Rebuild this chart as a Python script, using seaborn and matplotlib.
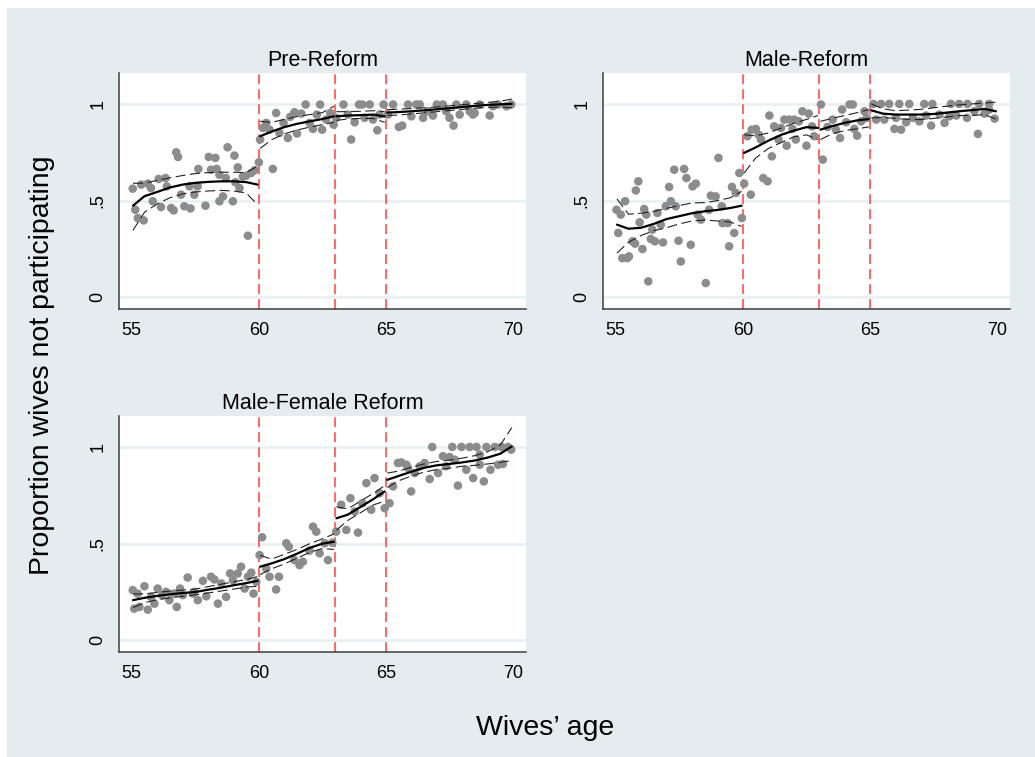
# wives_participation.py
import matplotlib
matplotlib.use("Agg")
import matplotlib.pyplot as plt
from matplotlib.patches import Rectangle
import seaborn as sns

# ====== DATA ======
panel_titles = ["Pre-Reform", "Male-Reform", "Male-Female Reform"]
reform_ages = [60, 63, 65]

# binned scatter points
pre_x = [55.04, 55.14, 55.24, 55.47, 55.37, 55.63, 55.76, 55.83, 56.06, 56.15, 56.33, 56.38,
         56.55, 56.65, 56.75, 56.82, 56.94, 57.07, 57.31, 57.27, 57.46, 57.59, 57.62, 57.9,
         58.03, 58.12, 58.29, 58.34, 58.45, 58.45, 58.59, 58.7, 58.77, 58.98, 59.04, 59.08,
         59.17, 59.24, 59.37, 59.5, 59.57, 59.7, 59.83, 60.0,
         60.05, 60.16, 60.29, 60.42, 60.55, 60.68, 60.81, 60.97, 61.14, 61.23, 61.4, 61.5,
         61.67, 61.84, 62.0, 62.13, 62.28, 62.41, 62.49, 62.65, 62.81, 62.94,
         63.04, 63.33, 63.5, 63.63, 63.77, 63.94, 64.07, 64.16, 64.36, 64.49, 64.66, 64.75, 64.91,
         65.08, 65.28, 65.51, 65.64, 65.87, 66.0, 66.19, 66.33, 66.46, 66.65, 66.85, 67.0,
         67.24, 67.37, 67.5, 67.66, 67.77, 67.9, 68.16, 68.29, 68.42, 68.49, 68.69, 69.08,
         69.21, 69.41, 69.74, 69.93]
pre_y = [0.562, 0.453, 0.41, 0.398, 0.583, 0.588, 0.565, 0.497, 0.612, 0.467, 0.617, 0.574,
         0.462, 0.45, 0.75, 0.726, 0.531, 0.471, 0.46, 0.574, 0.531, 0.574, 0.664, 0.474,
         0.726, 0.66, 0.721, 0.664, 0.634, 0.497, 0.522, 0.617, 0.776, 0.497, 0.733, 0.595,
         0.672, 0.565, 0.625, 0.629, 0.319, 0.643, 0.657, 0.698,
         0.816, 0.876, 0.902, 0.867, 0.664, 0.953, 0.85, 0.902, 0.824, 0.933, 0.957, 0.847,
         0.95, 0.997, 0.902, 0.871, 0.945, 0.997, 0.867, 0.919, 0.953, 0.893,
         0.928, 0.997, 0.945, 0.816, 0.905, 0.997, 0.997, 0.928, 0.997, 0.919, 0.864, 0.945, 0.997,
         0.945, 0.997, 0.881, 0.888, 0.997, 0.936, 0.997, 0.997, 0.928, 0.962, 0.94, 0.997,
         0.997, 0.962, 0.928, 0.888, 0.997, 0.945, 0.997, 0.962, 0.945, 0.953, 0.997, 0.94,
         0.988, 0.997, 0.988, 0.997]

male_x = [55.03, 55.1, 55.2, 55.26, 55.37, 55.46, 55.52, 55.66, 55.76, 55.79, 55.89, 55.94,
          56.05, 56.12, 56.2, 56.28, 56.38, 56.44, 56.54, 56.64, 56.77, 56.86, 56.97, 57.1,
          57.17, 57.3, 57.36, 57.47, 57.56, 57.69, 57.78, 57.95, 58.02, 58.15, 58.22, 58.35,
          58.54, 58.67, 58.74, 58.93, 59.04, 59.17, 59.2, 59.4, 59.46, 59.57, 59.66, 59.72,
          59.86, 59.96,
          60.05, 60.18, 60.31, 60.35, 60.51, 60.62, 60.71, 60.8, 60.97, 61.04, 61.14, 61.23,
          61.4, 61.5, 61.63, 61.72, 61.82, 61.95, 62.02, 62.08, 62.2, 62.34, 62.5, 62.59,
          62.72, 62.8,
          63.07, 63.14, 63.33, 63.53, 63.66, 63.82, 63.9, 64.06, 64.19, 64.32, 64.38, 64.49,
          64.65, 64.78, 64.87,
          65.13, 65.24, 65.43, 65.56, 65.75, 65.96, 66.02, 66.15, 66.22, 66.42, 66.54, 66.68,
          66.94, 67.13, 67.2, 67.4, 67.45, 67.73, 67.93, 68.12, 68.18, 68.39, 68.5, 68.81,
          68.83, 69.1, 69.24, 69.29, 69.5, 69.68, 69.68, 69.9]
male_y = [0.453, 0.333, 0.428, 0.203, 0.497, 0.203, 0.212, 0.29, 0.278, 0.553, 0.6, 0.388,
          0.25, 0.457, 0.428, 0.083, 0.302, 0.35, 0.29, 0.436, 0.376, 0.284, 0.471, 0.571,
          0.497, 0.66, 0.471, 0.293, 0.186, 0.664, 0.617, 0.272, 0.574, 0.588, 0.428, 0.402,
          0.074, 0.453, 0.526, 0.522, 0.721, 0.471, 0.384, 0.384, 0.264, 0.571, 0.333, 0.54,
          0.643, 0.41,
          0.588, 0.833, 0.531, 0.867, 0.871, 0.841, 0.816, 0.617, 0.6, 0.94, 0.729, 0.884,
          0.816, 0.876, 0.919, 0.784, 0.919, 0.871, 0.919, 0.816, 0.91, 0.962, 0.784, 0.95,
          0.884, 0.833,
          0.997, 0.712, 0.881, 0.919, 0.867, 0.824, 0.971, 0.905, 0.997, 0.997, 0.871, 0.836,
          0.91, 0.962, 0.928,
          1.0, 0.919, 1.0, 0.919, 1.0, 0.871, 0.928, 1.0, 0.867, 0.905, 1.0, 0.928,
          0.91, 1.0, 0.94, 0.888, 1.0, 0.945, 0.902, 0.936, 1.0, 0.94, 1.0, 0.928,
          1.0, 0.962, 0.845, 1.0, 0.95, 1.0, 0.97, 0.924]

mf_x = [55.04, 55.1, 55.23, 55.3, 55.5, 55.63, 55.76, 55.89, 56.02, 56.19, 56.35, 56.48,
        56.68, 56.77, 56.9, 57.01, 57.2, 57.4, 57.46, 57.6, 57.8, 57.93, 58.12, 58.25,
        58.39, 58.52, 58.71, 58.87, 58.98, 59.17, 59.3, 59.44, 59.57, 59.7, 59.79, 59.9,
        60.03, 60.13, 60.29, 60.42, 60.68, 60.79, 61.08, 61.18, 61.4, 61.6, 61.73, 61.99,
        62.13, 62.26, 62.39, 62.59, 62.72, 62.89,
        63.04, 63.24, 63.44, 63.6, 63.77, 63.9, 64.07, 64.23, 64.42, 64.55, 64.75, 64.95,
        65.14, 65.28, 65.47, 65.6, 65.8, 65.87, 65.99, 66.13, 66.33, 66.52, 66.72, 66.82,
        67.05, 67.24, 67.37, 67.5, 67.61, 67.7, 67.83, 67.97, 68.16, 68.29, 68.43, 68.56,
        68.69, 68.69, 68.85, 68.95, 69.11, 69.28, 69.41, 69.54, 69.6, 69.8, 69.93]
mf_y = [0.26, 0.164, 0.242, 0.173, 0.28, 0.159, 0.225, 0.19, 0.268, 0.234, 0.251, 0.208,
        0.242, 0.173, 0.268, 0.234, 0.325, 0.242, 0.251, 0.208, 0.308, 0.228, 0.329, 0.315,
        0.19, 0.294, 0.225, 0.346, 0.311, 0.346, 0.381, 0.268, 0.329, 0.35, 0.242, 0.303,
        0.441, 0.533, 0.372, 0.329, 0.263, 0.329, 0.502, 0.484, 0.415, 0.389, 0.407, 0.464,
        0.588, 0.562, 0.45, 0.502, 0.415, 0.505,
        0.562, 0.701, 0.571, 0.735, 0.666, 0.557, 0.709, 0.813, 0.675, 0.839, 0.761, 0.683,
        0.709, 0.796, 0.917, 0.92, 0.908, 0.891, 0.77, 0.865, 0.9, 0.917, 0.834, 1.0,
        0.865, 0.952, 0.9, 0.948, 1.0, 0.934, 0.8, 1.0, 0.882, 1.0, 0.839, 1.0,
        0.96, 0.908, 0.822, 1.0, 0.882, 1.0, 0.908, 1.0, 0.912, 1.0, 0.986]

# local polynomial fits (fit, lower, upper) on each side of the reform ages
seg_x = [[55.05, 55.5, 56.0, 56.5, 57.0, 57.5, 58.0, 58.5, 59.0, 59.5, 59.95],
         [60.05, 60.5, 61.0, 61.5, 62.0, 62.5, 62.95],
         [63.05, 63.5, 64.0, 64.5, 64.95],
         [65.05, 65.5, 66.0, 66.5, 67.0, 67.5, 68.0, 68.5, 69.0, 69.5, 69.95]]

pre_fit = [[0.474, 0.523, 0.545, 0.568, 0.583, 0.592, 0.597, 0.6, 0.6, 0.596, 0.583],
           [0.833, 0.857, 0.88, 0.897, 0.91, 0.922, 0.936],
           [0.936, 0.94, 0.942, 0.945, 0.935],
           [0.955, 0.958, 0.962, 0.967, 0.972, 0.978, 0.984, 0.99, 0.995, 0.998, 1.0]]
pre_lo = [[0.347, 0.44, 0.483, 0.515, 0.535, 0.545, 0.55, 0.553, 0.55, 0.54, 0.479],
          [0.77, 0.815, 0.845, 0.865, 0.88, 0.893, 0.905],
          [0.915, 0.922, 0.925, 0.925, 0.905],
          [0.94, 0.943, 0.948, 0.954, 0.96, 0.966, 0.972, 0.978, 0.982, 0.984, 0.98]]
pre_hi = [[0.59, 0.59, 0.605, 0.618, 0.63, 0.64, 0.645, 0.647, 0.647, 0.645, 0.678],
          [0.91, 0.905, 0.92, 0.935, 0.945, 0.955, 0.988],
          [0.96, 0.96, 0.962, 0.965, 0.96],
          [0.97, 0.973, 0.976, 0.98, 0.984, 0.99, 0.996, 1.002, 1.008, 1.014, 1.025]]

male_fit = [[0.376, 0.355, 0.36, 0.38, 0.405, 0.42, 0.435, 0.445, 0.452, 0.462, 0.474],
            [0.747, 0.775, 0.81, 0.84, 0.862, 0.88, 0.876],
            [0.867, 0.885, 0.902, 0.915, 0.922],
            [0.967, 0.95, 0.945, 0.945, 0.945, 0.948, 0.955, 0.962, 0.968, 0.974, 0.962]]
male_lo = [[0.229, 0.285, 0.32, 0.345, 0.36, 0.38, 0.395, 0.4, 0.395, 0.39, 0.367],
           [0.643, 0.72, 0.77, 0.8, 0.83, 0.84, 0.816],
           [0.816, 0.845, 0.862, 0.872, 0.881],
           [0.928, 0.93, 0.925, 0.92, 0.919, 0.925, 0.932, 0.94, 0.94, 0.945, 0.922]]
male_hi = [[0.509, 0.43, 0.435, 0.445, 0.46, 0.475, 0.488, 0.49, 0.5, 0.515, 0.548],
           [0.841, 0.835, 0.85, 0.875, 0.9, 0.92, 0.94],
           [0.91, 0.925, 0.94, 0.955, 0.971],
           [1.0, 0.975, 0.965, 0.968, 0.972, 0.98, 0.988, 0.995, 1.0, 1.005, 1.009]]

mf_fit = [[0.208, 0.22, 0.23, 0.238, 0.245, 0.25, 0.262, 0.272, 0.285, 0.296, 0.308],
          [0.381, 0.398, 0.42, 0.448, 0.478, 0.5, 0.51],
          [0.631, 0.65, 0.69, 0.73, 0.77],
          [0.83, 0.85, 0.872, 0.892, 0.905, 0.912, 0.92, 0.93, 0.945, 0.965, 1.003]]
mf_lo = [[0.17, 0.195, 0.21, 0.22, 0.228, 0.235, 0.245, 0.255, 0.265, 0.275, 0.28],
         [0.34, 0.37, 0.395, 0.425, 0.455, 0.475, 0.47],
         [0.57, 0.62, 0.66, 0.7, 0.72],
         [0.79, 0.825, 0.85, 0.87, 0.883, 0.89, 0.9, 0.905, 0.912, 0.92, 0.93]]
mf_hi = [[0.24, 0.24, 0.248, 0.255, 0.26, 0.265, 0.278, 0.29, 0.302, 0.315, 0.33],
         [0.44, 0.42, 0.445, 0.47, 0.5, 0.525, 0.55],
         [0.69, 0.68, 0.72, 0.76, 0.8],
         [0.865, 0.875, 0.895, 0.912, 0.925, 0.932, 0.942, 0.955, 0.975, 1.01, 1.1]]

# ====== STYLE ======
sns.set_style("white")
plt.rcParams['font.family'] = ['Liberation Sans', 'DejaVu Sans']
plt.rcParams['text.color'] = "black"
plt.rcParams['xtick.color'] = "black"
plt.rcParams['ytick.color'] = "black"

bg = "#e5ecf0"
grid_col = "#e8f0f3"
spine_col = "#3c3c3c"

fig = plt.figure(figsize=(10.35, 7.57), dpi=100, facecolor="white")
fig.patches.append(Rectangle((7 / 1035, 0), 1, 1 - 8 / 757, transform=fig.transFigure,
                             facecolor=bg, edgecolor="none", zorder=-10))

boxes = [[0.115, 0.5918, 0.393, 0.3118],
         [0.5826, 0.5918, 0.3932, 0.3118],
         [0.115, 0.1387, 0.393, 0.3118]]

panels = [(pre_x, pre_y, pre_fit, pre_lo, pre_hi),
          (male_x, male_y, male_fit, male_lo, male_hi),
          (mf_x, mf_y, mf_fit, mf_lo, mf_hi)]

for box, title, (px, py, fit, lo, hi) in zip(boxes, panel_titles, panels):
    ax = fig.add_axes(box)
    ax.set_facecolor("white")

    for yv in [0, 0.5, 1]:
        ax.axhline(yv, color=grid_col, lw=1.8, zorder=0)

    sns.scatterplot(x=px, y=py, ax=ax, color="#8c8c8c", s=38, edgecolor="none",
                    linewidth=0, zorder=2)

    for sx, f, l, h in zip(seg_x, fit, lo, hi):
        sns.lineplot(x=sx, y=l, ax=ax, color="#222222", lw=0.8,
                     linestyle=(0, (9, 4)), zorder=3)
        sns.lineplot(x=sx, y=h, ax=ax, color="#222222", lw=0.8,
                     linestyle=(0, (9, 4)), zorder=3)
        sns.lineplot(x=sx, y=f, ax=ax, color="black", lw=1.6, zorder=4)

    for a in reform_ages:
        ax.axvline(a, color="#ff5c5c", lw=1.3, linestyle=(0, (5.5, 2.8)), zorder=1)

    ax.set_xlim(54.5, 70.5)
    ax.set_ylim(-0.06, 1.16)
    ax.set_xticks([55, 60, 65, 70])
    ax.set_yticks([0, 0.5, 1])
    ax.set_yticklabels(["0", ".5", "1"], rotation=90, va="center")
    ax.tick_params(axis="both", direction="out", length=5, width=1, color=spine_col,
                   labelsize=13, pad=4)
    for side in ["top", "right"]:
        ax.spines[side].set_visible(False)
    for side in ["left", "bottom"]:
        ax.spines[side].set_color(spine_col)
        ax.spines[side].set_linewidth(1.1)
    ax.set_xlabel("")
    ax.set_ylabel("")
    ax.set_title(title, fontsize=15.5, pad=5)

fig.text(0.041, 0.518, "Proportion wives not participating", rotation=90,
         ha="center", va="center", fontsize=20.5)
fig.text(0.527, 0.038, "Wives\u2019 age", ha="center", va="center", fontsize=20.5)

plt.savefig("out.png", dpi=100, facecolor=fig.get_facecolor())
plt.close()
